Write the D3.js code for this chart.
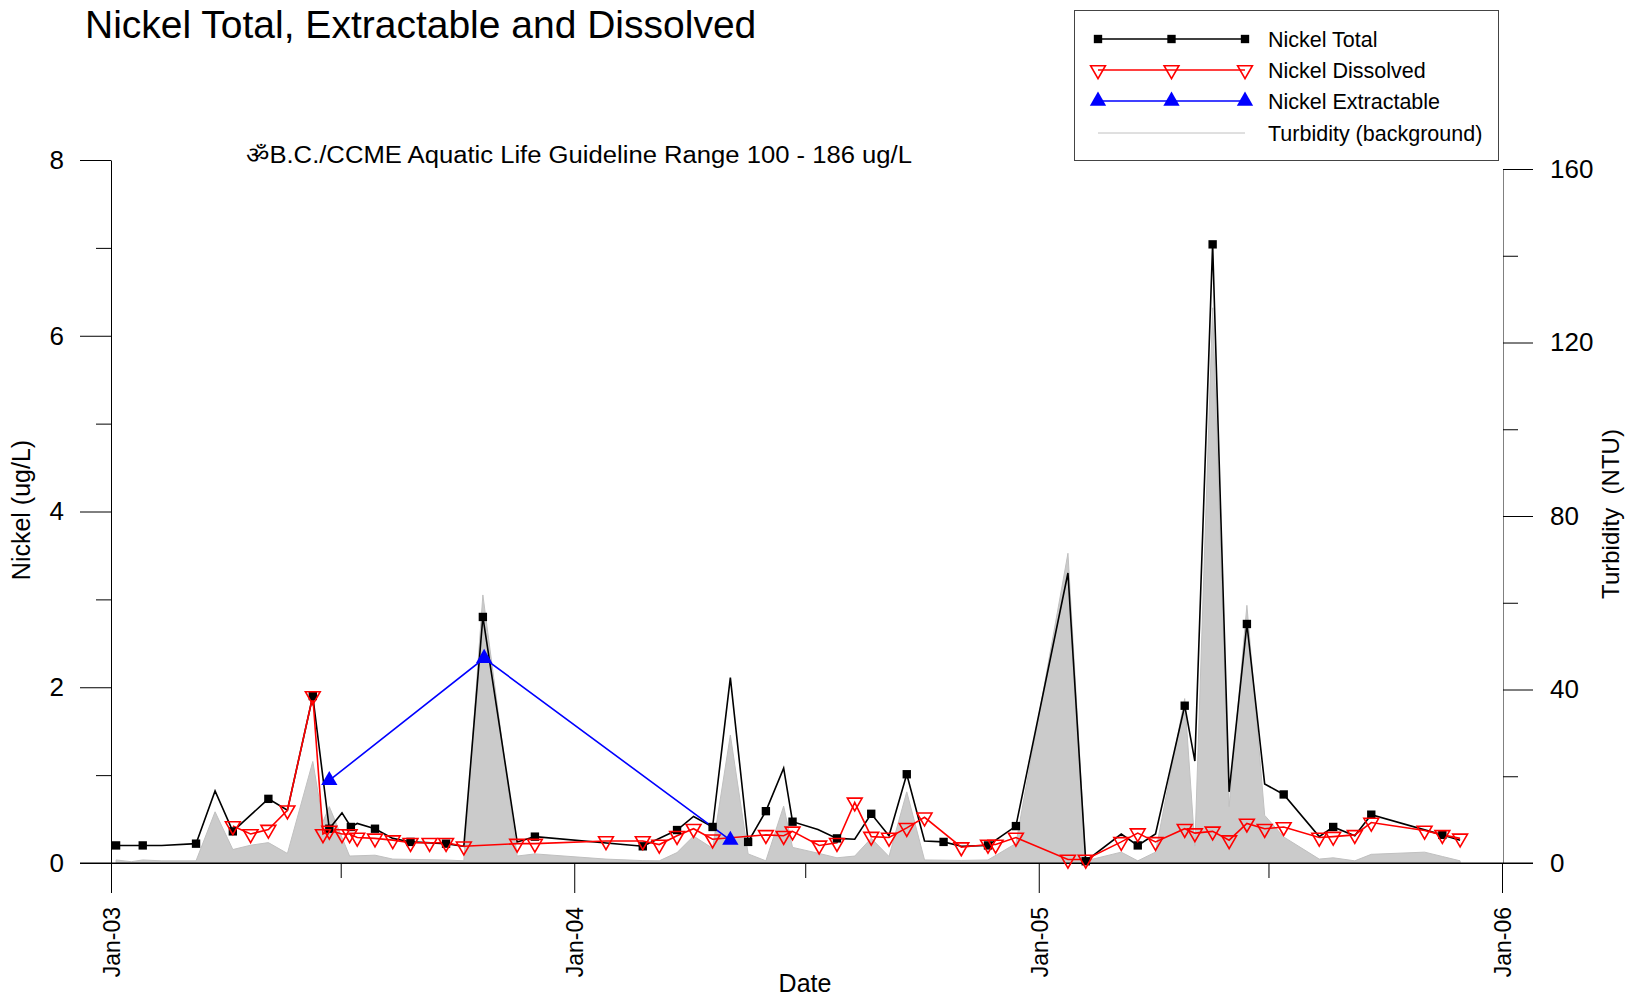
<!DOCTYPE html>
<html>
<head>
<meta charset="utf-8">
<script src="https://cdn.jsdelivr.net/npm/d3@7/dist/d3.min.js"></script>
<style>
  html, body { margin: 0; padding: 0; background: #fff; }
  svg { display: block; font-family: "Liberation Sans", Arial, sans-serif; }
</style>
</head>
<body>
<svg id="chart" width="1629" height="997"></svg>
<script>
// ---------------- DATA ----------------
const titleText = "Nickel Total, Extractable and Dissolved";
const guidelineText = "ॐB.C./CCME Aquatic Life Guideline Range 100 - 186 ug/L";
const seriesNames = ["Nickel Total", "Nickel Dissolved", "Nickel Extractable", "Turbidity (background)"];
const xTickLabels = ["2003-01-01", "2004-01-01", "2005-01-01", "2006-01-01"];
const xMinorTicks = ["2003-07-01", "2004-07-01", "2005-07-01"];
const leftTicks = [0, 2, 4, 6, 8];
const leftMinor = [1, 3, 5, 7];
const rightTicks = [0, 40, 80, 120, 160];
const rightMinor = [20, 60, 100, 140];

// Nickel Total (ug/L); totalMarked: 1 = drawn with a square marker
const totalDates = ["2003-01-05","2003-01-26","2003-02-10","2003-03-09","2003-03-24","2003-04-07","2003-05-05","2003-05-20","2003-06-09","2003-06-22","2003-07-02","2003-07-09","2003-07-14","2003-07-28","2003-08-11","2003-08-25","2003-09-22","2003-10-06","2003-10-21","2003-11-17","2003-12-01","2004-02-24","2004-03-22","2004-04-04","2004-04-19","2004-05-03","2004-05-17","2004-05-31","2004-06-14","2004-06-21","2004-07-11","2004-07-26","2004-08-09","2004-08-22","2004-09-05","2004-09-19","2004-10-03","2004-10-18","2004-11-01","2004-11-22","2004-12-14","2005-01-24","2005-02-07","2005-03-07","2005-03-20","2005-04-03","2005-04-26","2005-05-04","2005-05-18","2005-05-31","2005-06-14","2005-06-28","2005-07-13","2005-08-10","2005-08-21","2005-09-07","2005-09-20","2005-11-15","2005-11-29"];
const totalValues = [0.20,0.20,0.20,0.22,0.82,0.36,0.73,0.60,1.90,0.39,0.57,0.41,0.45,0.39,0.28,0.24,0.22,0.19,2.80,0.24,0.30,0.19,0.375,0.53,0.41,2.11,0.24,0.59,1.08,0.47,0.38,0.28,0.27,0.56,0.31,1.01,0.25,0.24,0.19,0.20,0.42,3.30,0.02,0.33,0.20,0.33,1.79,1.16,7.04,0.81,2.72,0.90,0.78,0.30,0.41,0.31,0.55,0.32,0.26];
const totalMarked = [1,1,0,1,0,1,1,0,1,1,0,1,0,1,0,1,1,0,1,0,1,1,1,0,1,0,1,1,0,1,0,1,0,1,0,1,0,1,0,1,1,0,1,0,1,0,1,0,1,0,1,0,1,0,1,0,1,1,0];

// Nickel Dissolved (ug/L)
const dissolvedDates = ["2003-04-07","2003-04-21","2003-05-05","2003-05-20","2003-06-09","2003-06-17","2003-06-22","2003-07-02","2003-07-08","2003-07-14","2003-07-28","2003-08-11","2003-08-25","2003-09-09","2003-09-22","2003-10-06","2003-11-17","2003-12-01","2004-01-26","2004-02-24","2004-03-08","2004-03-22","2004-04-04","2004-04-19","2004-05-31","2004-06-14","2004-06-21","2004-07-12","2004-07-26","2004-08-09","2004-08-22","2004-09-05","2004-09-19","2004-10-03","2004-11-01","2004-11-22","2004-11-28","2004-12-14","2005-01-24","2005-02-07","2005-03-07","2005-03-20","2005-04-03","2005-04-26","2005-05-04","2005-05-18","2005-05-31","2005-06-14","2005-06-28","2005-07-13","2005-08-10","2005-08-21","2005-09-07","2005-09-20","2005-11-01","2005-11-15","2005-11-29"];
const dissolvedValues = [0.42,0.33,0.38,0.60,1.90,0.33,0.37,0.33,0.33,0.29,0.28,0.26,0.23,0.23,0.23,0.19,0.22,0.22,0.25,0.25,0.21,0.31,0.39,0.27,0.32,0.31,0.36,0.20,0.23,0.69,0.30,0.29,0.40,0.52,0.18,0.21,0.21,0.29,0.04,0.04,0.24,0.34,0.24,0.39,0.34,0.36,0.26,0.45,0.39,0.41,0.29,0.30,0.32,0.46,0.37,0.32,0.28];

// Nickel Extractable (ug/L)
const extractDates = ["2003-06-22","2003-10-22","2004-05-03"];
const extractValues = [0.94,2.33,0.26];

// Turbidity (NTU), right axis
const turbDates = ["2003-01-05","2003-01-17","2003-01-26","2003-02-10","2003-03-09","2003-03-24","2003-04-07","2003-04-21","2003-05-05","2003-05-20","2003-06-09","2003-06-17","2003-06-22","2003-07-08","2003-07-28","2003-08-11","2003-09-22","2003-10-06","2003-10-21","2003-11-17","2003-12-01","2004-01-26","2004-02-24","2004-03-08","2004-03-22","2004-04-04","2004-04-19","2004-05-03","2004-05-17","2004-05-31","2004-06-14","2004-06-21","2004-07-12","2004-07-26","2004-08-09","2004-08-22","2004-09-05","2004-09-19","2004-10-03","2004-11-01","2004-11-22","2004-12-14","2005-01-24","2005-02-07","2005-03-07","2005-03-20","2005-04-03","2005-04-26","2005-05-04","2005-05-18","2005-05-31","2005-06-14","2005-06-28","2005-07-13","2005-08-10","2005-08-21","2005-09-07","2005-09-20","2005-11-01","2005-11-15","2005-11-29"];
const turbValues = [0.7,0.3,0.7,0.5,0.5,11.8,3.1,4.1,4.7,2.2,23.4,9.5,13.0,1.6,1.8,0.9,0.7,0.5,61.8,1.6,2.1,0.9,0.55,0.5,2.4,6.2,3.4,29.5,2.1,0.5,13.1,3.6,2.2,1.2,1.6,5.7,1.5,16.4,0.7,0.6,0.7,4.5,71.4,0.5,2.5,0.5,2.5,37.9,3.9,128,13,59.4,11,6,0.9,1.2,0.5,2.0,2.5,1.5,0.5];

// ---------------- CHART ----------------
const parse = d3.timeParse("%Y-%m-%d");
const zip = (ds, vs) => ds.map((d, i) => ({ date: parse(d), v: vs[i], i }));
const total = zip(totalDates, totalValues);
const dissolved = zip(dissolvedDates, dissolvedValues);
const extract = zip(extractDates, extractValues);
const turb = zip(turbDates, turbValues);

const svg = d3.select("#chart");
const FONT = "'Liberation Sans', Arial, sans-serif";

const x = d3.scaleTime().domain([parse("2003-01-01"), parse("2006-01-01")]).range([111, 1502]);
const yL = d3.scaleLinear().domain([0, 8]).range([863, 160]);
const yR = d3.scaleLinear().domain([0, 160]).range([863, 169]);

// Turbidity background area
svg.append("path")
  .datum(turb)
  .attr("d", d3.area().x(d => x(d.date)).y0(yR(0)).y1(d => yR(d.v)))
  .attr("fill", "#cbcbcb")
  .attr("stroke", "#c0c0c0")
  .attr("stroke-width", 1);

// Axes
function styleAxis(g, size) {
  g.selectAll("text").attr("font-family", FONT).attr("font-size", size).attr("fill", "#000");
  g.selectAll("line").attr("stroke", "#000").attr("stroke-width", 1);
}
// Left
const gL = svg.append("g").attr("transform", "translate(111,0)")
  .call(d3.axisLeft(yL).tickValues(leftTicks).tickSize(31).tickSizeOuter(0).tickPadding(16).tickFormat(d3.format("d")));
styleAxis(gL, 26);
gL.select(".domain").attr("stroke", "#000");
svg.append("g").attr("transform", "translate(111,0)")
  .call(d3.axisLeft(yL).tickValues(leftMinor).tickSize(15).tickFormat(""))
  .call(g => { g.select(".domain").remove(); styleAxis(g, 26); });
// Right
const gR = svg.append("g").attr("transform", "translate(1503,0)")
  .call(d3.axisRight(yR).tickValues(rightTicks).tickSize(30).tickSizeOuter(0).tickPadding(17).tickFormat(d3.format("d")));
styleAxis(gR, 26);
gR.select(".domain").attr("stroke", "#808080");
svg.append("g").attr("transform", "translate(1503,0)")
  .call(d3.axisRight(yR).tickValues(rightMinor).tickSize(15).tickFormat(""))
  .call(g => { g.select(".domain").remove(); styleAxis(g, 26); });
// Bottom
const gB = svg.append("g").attr("transform", "translate(0,863)")
  .call(d3.axisBottom(x).tickValues(xTickLabels.map(parse)).tickSize(30).tickSizeOuter(0).tickFormat(d3.timeFormat("%b-%y")));
styleAxis(gB, 23);
gB.select(".domain").attr("stroke", "#000");
gB.selectAll("text")
  .attr("transform", "rotate(-90)")
  .attr("x", -44).attr("y", 0).attr("dy", "0.36em")
  .attr("text-anchor", "end");
svg.append("g").attr("transform", "translate(0,863)")
  .call(d3.axisBottom(x).tickValues(xMinorTicks.map(parse)).tickSize(15).tickFormat(""))
  .call(g => { g.select(".domain").remove(); styleAxis(g, 23); });
// extend zero line across both zero ticks
svg.append("line").attr("x1", 80).attr("x2", 1533).attr("y1", yL(0)).attr("y2", yL(0)).attr("stroke", "#000");

// Lines
const lineL = d3.line().x(d => x(d.date)).y(d => yL(d.v));
svg.append("path").datum(total).attr("d", lineL).attr("fill", "none").attr("stroke", "#000").attr("stroke-width", 1.6);
svg.append("path").datum(dissolved).attr("d", lineL).attr("fill", "none").attr("stroke", "#ff0000").attr("stroke-width", 1.6);
svg.append("path").datum(extract).attr("d", lineL).attr("fill", "none").attr("stroke", "#0000ff").attr("stroke-width", 1.6);

// Markers
const sq = d3.symbol().type(d3.symbolSquare).size(70);
const triDown = d3.symbol().type(d3.symbolTriangle).size(95);
const triUp = d3.symbol().type(d3.symbolTriangle).size(115);

svg.append("g").selectAll("path").data(total.filter(d => totalMarked[d.i] === 1)).join("path")
  .attr("d", sq).attr("transform", d => `translate(${x(d.date)},${yL(d.v)})`).attr("fill", "#000");
svg.append("g").selectAll("path").data(dissolved).join("path")
  .attr("d", triDown).attr("transform", d => `translate(${x(d.date)},${yL(d.v)}) rotate(180)`)
  .attr("fill", "none").attr("stroke", "#ff0000").attr("stroke-width", 1.6);
svg.append("g").selectAll("path").data(extract).join("path")
  .attr("d", triUp).attr("transform", d => `translate(${x(d.date)},${yL(d.v)})`).attr("fill", "#0000ff");

// Texts
svg.append("text").attr("x", 85).attr("y", 38).attr("font-family", FONT).attr("font-size", 39).text(titleText);
svg.append("text").attr("x", 246).attr("y", 163).attr("font-family", FONT).attr("font-size", 23)
  .attr("textLength", 666).attr("lengthAdjust", "spacingAndGlyphs").text(guidelineText);
svg.append("text").attr("transform", "translate(30,510) rotate(-90)").attr("text-anchor", "middle")
  .attr("font-family", FONT).attr("font-size", 25).text("Nickel (ug/L)");
svg.append("text").attr("transform", "translate(1619,514) rotate(-90)").attr("text-anchor", "middle")
  .attr("font-family", FONT).attr("font-size", 24).style("white-space", "pre").text("Turbidity  (NTU)");
svg.append("text").attr("x", 805).attr("y", 992).attr("text-anchor", "middle")
  .attr("font-family", FONT).attr("font-size", 25).text("Date");

// Legend
const lg = svg.append("g");
lg.append("rect").attr("x", 1074.5).attr("y", 10.5).attr("width", 424).attr("height", 150)
  .attr("fill", "#fff").attr("stroke", "#444").attr("stroke-width", 1);
const legendRows = [39, 70, 101, 133];
const mx = [1098, 1171.5, 1245];
const legendStyles = [
  { stroke: "#000", w: 1.6, sym: sq, fill: "#000", sStroke: "none", rot: 0 },
  { stroke: "#ff0000", w: 1.6, sym: triDown, fill: "none", sStroke: "#ff0000", rot: 180 },
  { stroke: "#0000ff", w: 1.6, sym: triUp, fill: "#0000ff", sStroke: "none", rot: 0 },
  { stroke: "#c0c0c0", w: 1, sym: null }
];
seriesNames.forEach((name, k) => {
  const yy = legendRows[k], st = legendStyles[k];
  lg.append("line").attr("x1", mx[0]).attr("x2", mx[2]).attr("y1", yy).attr("y2", yy)
    .attr("stroke", st.stroke).attr("stroke-width", st.w);
  if (st.sym) {
    mx.forEach(px => lg.append("path").attr("d", st.sym)
      .attr("transform", `translate(${px},${yy}) rotate(${st.rot})`)
      .attr("fill", st.fill).attr("stroke", st.sStroke).attr("stroke-width", 1.6));
  }
  lg.append("text").attr("x", 1268).attr("y", yy).attr("dy", "0.36em")
    .attr("font-family", FONT).attr("font-size", 21.5).text(name);
});
</script>
</body>
</html>
